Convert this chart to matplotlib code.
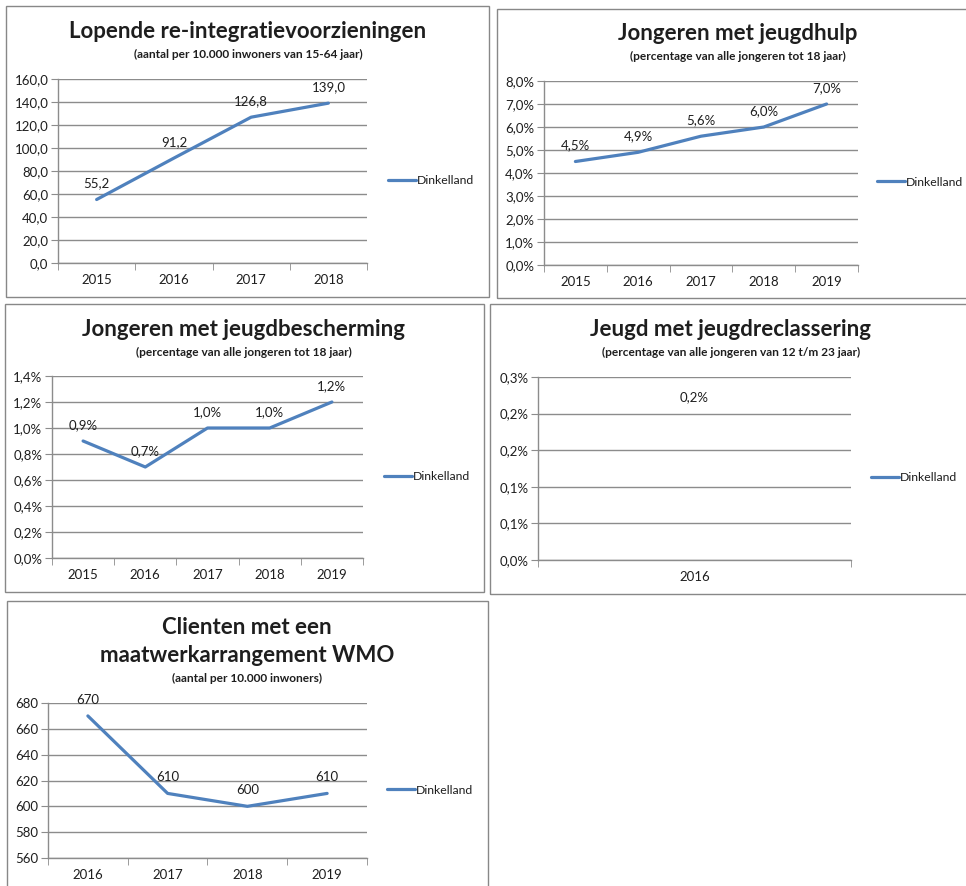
from matplotlib import pyplot as plt
from matplotlib.patches import Rectangle
from matplotlib.ticker import FixedLocator, FuncFormatter
import numpy as np

plt.rcParams['font.family'] = ['Lato', 'DejaVu Sans']

W, H = 966, 886
LINE_BLUE = "#4F81BD"
GRID = "#8C8C8C"
BORDER = "#888888"
TXT = "#1E1E1E"

# ---- data ----
years_reint = ["2015", "2016", "2017", "2018"]
reint = [55.2, 91.2, 126.8, 139.0]

years_jh = ["2015", "2016", "2017", "2018", "2019"]
jeugdhulp = [4.5, 4.9, 5.6, 6.0, 7.0]

years_jb = ["2015", "2016", "2017", "2018", "2019"]
jeugdbesch = [0.9, 0.7, 1.0, 1.0, 1.2]

years_jr = ["2016"]
jeugdrecl = [0.2]
jr_ticks = [0.0, 0.05, 0.10, 0.15, 0.20, 0.25]
jr_ticklabels = ["0,0%", "0,1%", "0,1%", "0,2%", "0,2%", "0,3%"]

years_wmo = ["2016", "2017", "2018", "2019"]
wmo = [670, 610, 600, 610]

TITLE_FS = 16
SUB_FS = 8.6
TICK_FS = 9.5
LEG_FS = 8.8


def px_axes(fig, x0, y0, x1, y1):
	"""Axes from pixel box (top-left origin)."""
	return fig.add_axes([x0 / W, 1 - y1 / H, (x1 - x0) / W, (y1 - y0) / H])


def px_text(fig, x, y, s, **kw):
	fig.text(x / W, 1 - y / H, s, ha="center", va="center", color=TXT, **kw)


def panel_border(fig, x0, y0, x1, y1):
	fig.patches.append(Rectangle((x0 / W, 1 - y1 / H), (x1 - x0) / W, (y1 - y0) / H,
		transform=fig.transFigure, fill=False, edgecolor=BORDER, lw=1.0, zorder=0))


def excel_line(fig, box, cats, vals, ylim, yticks, fmt, lab_fmt, legend_xy, ticklabels=None):
	ax = px_axes(fig, *box)
	x = np.arange(len(cats))
	ax.plot(x, vals, color=LINE_BLUE, lw=2.3, label="Dinkelland", solid_capstyle="round", zorder=3)
	for xi, v in zip(x, vals):
		ax.annotate(lab_fmt(v), (xi, v), xytext=(0, 16), textcoords="offset pixels",
			ha="center", va="center", fontsize=TICK_FS, color=TXT, zorder=4)
	ax.set_xlim(-0.5, len(cats) - 0.5)
	ax.set_ylim(*ylim)
	ax.set_xticks(x)
	ax.set_xticklabels(cats, fontsize=TICK_FS, color=TXT)
	ax.xaxis.set_minor_locator(FixedLocator(np.arange(len(cats) + 1) - 0.5))
	ax.tick_params(axis="x", which="major", length=0, pad=8)
	ax.tick_params(axis="x", which="minor", length=5, color=GRID, direction="out")
	ax.set_yticks(yticks)
	if ticklabels is not None:
		ax.set_yticklabels(ticklabels)
	else:
		ax.yaxis.set_major_formatter(FuncFormatter(fmt))
	ax.tick_params(axis="y", length=5, color=GRID, pad=2, labelsize=TICK_FS, labelcolor=TXT)
	ax.grid(axis="y", color=GRID, lw=1.0)
	ax.set_axisbelow(True)
	for s in ["top", "right"]:
		ax.spines[s].set_visible(False)
	for s in ["left", "bottom"]:
		ax.spines[s].set_color(GRID)
		ax.spines[s].set_linewidth(1.0)
	lx, ly = legend_xy
	leg = ax.legend(loc="center left", bbox_to_anchor=(lx / W, 1 - ly / H), bbox_transform=fig.transFigure,
		frameon=False, fontsize=LEG_FS, handlelength=2.3, handletextpad=0.1, borderpad=0, borderaxespad=0)
	for t in leg.get_texts():
		t.set_color(TXT)
	return ax


def comma(v, d):
	return f"{v:.{d}f}".replace(".", ",")


fig = plt.figure(figsize=(W / 100, H / 100), dpi=100, facecolor="white")

# panel borders
panel_border(fig, 6, 6, 489, 297)
panel_border(fig, 497, 9, 975, 298)
panel_border(fig, 5, 304, 484, 592)
panel_border(fig, 490, 304, 975, 594)
panel_border(fig, 7, 601, 488, 900)

# 1: re-integratie
px_text(fig, 248, 32, "Lopende re-integratievoorzieningen", fontsize=TITLE_FS, fontweight="bold")
px_text(fig, 248, 54, "(aantal per 10.000 inwoners van 15-64 jaar)", fontsize=SUB_FS, fontweight="bold")
excel_line(fig, (58, 79, 367, 263), years_reint, reint, (0, 160), np.arange(0, 161, 20),
	lambda v, p: comma(v, 1), lambda v: comma(v, 1), (388, 181))

# 2: jeugdhulp
px_text(fig, 738, 33, "Jongeren met jeugdhulp", fontsize=TITLE_FS, fontweight="bold")
px_text(fig, 738, 56, "(percentage van alle jongeren tot 18 jaar)", fontsize=SUB_FS, fontweight="bold")
excel_line(fig, (544, 81, 858, 265), years_jh, jeugdhulp, (0, 8), np.arange(0, 8.1, 1),
	lambda v, p: comma(v, 1) + "%", lambda v: comma(v, 1) + "%", (877, 182))

# 3: jeugdbescherming
px_text(fig, 244, 329, "Jongeren met jeugdbescherming", fontsize=TITLE_FS, fontweight="bold")
px_text(fig, 244, 352, "(percentage van alle jongeren tot 18 jaar)", fontsize=SUB_FS, fontweight="bold")
excel_line(fig, (52, 376, 363, 558), years_jb, jeugdbesch, (0, 1.4), np.arange(0, 1.41, 0.2),
	lambda v, p: comma(v, 1) + "%", lambda v: comma(v, 1) + "%", (384, 477))

# 4: jeugdreclassering
px_text(fig, 731, 330, "Jeugd met jeugdreclassering", fontsize=TITLE_FS, fontweight="bold")
px_text(fig, 731, 352, "(percentage van alle jongeren van 12 t/m 23 jaar)", fontsize=SUB_FS, fontweight="bold")
excel_line(fig, (538, 377, 851, 560), years_jr, jeugdrecl, (0, 0.25), jr_ticks,
	None, lambda v: comma(v, 1) + "%", (871, 478), ticklabels=jr_ticklabels)

# 5: WMO
px_text(fig, 247, 627, "Clienten met een", fontsize=TITLE_FS, fontweight="bold")
px_text(fig, 247, 656, "maatwerkarrangement WMO", fontsize=TITLE_FS, fontweight="bold")
px_text(fig, 247, 678, "(aantal per 10.000 inwoners)", fontsize=SUB_FS, fontweight="bold")
excel_line(fig, (48, 703, 367, 858), years_wmo, wmo, (560, 680), np.arange(560, 681, 20),
	lambda v, p: f"{v:.0f}", lambda v: f"{v:.0f}", (387, 790))

fig.savefig("out.png", dpi=100, facecolor="white")
